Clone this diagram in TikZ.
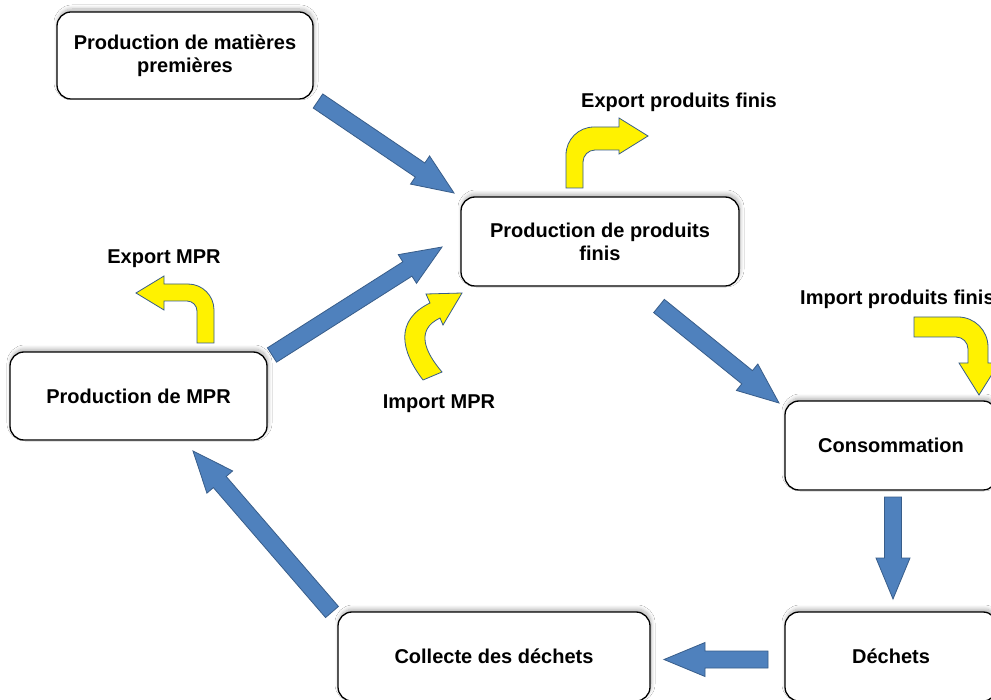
\documentclass[tikz,border=0pt]{standalone}
\usepackage{fontspec}
\setmainfont{Liberation Sans}
\usetikzlibrary{calc,shadows.blur}

\definecolor{flowblue}{RGB}{79,129,189}
\definecolor{edgeblue}{RGB}{56,93,138}

\newcommand*{\shafthw}{8.5pt}
\newcommand*{\headhw}{17pt}
\newcommand*{\headlen}{41pt}

% fat block arrow from #1 to #2
\newcommand*{\fatarrow}[2]{%
  \coordinate (neck) at ($(#2)!\headlen!(#1)$);
  \filldraw[flow]
    ($(#1)!\shafthw!90:(#2)$) -- ($(neck)!\shafthw!-90:(#1)$)
    -- ($(neck)!\headhw!-90:(#1)$) -- (#2)
    -- ($(neck)!\headhw!90:(#1)$) -- ($(neck)!\shafthw!90:(#1)$)
    -- ($(#1)!\shafthw!-90:(#2)$) -- cycle;
}

\begin{document}
\begin{tikzpicture}
[
	x=1pt,
	y=-1pt,
	stage/.style={draw=black,line width=1.3pt,rounded corners=14pt,fill=white,align=center,inner sep=0pt,
	  font=\bfseries\fontsize{20}{23}\selectfont,
	  blur shadow={shadow xshift=1pt,shadow yshift=3pt,shadow blur radius=4pt,shadow blur steps=10,shadow opacity=30}},
	flow/.style={fill=flowblue,draw=edgeblue,line width=0.8pt,line join=miter},
	bentflow/.style={fill=yellow,draw=edgeblue,line width=0.8pt,line join=miter},
	flowlabel/.style={inner sep=0pt,font=\bfseries\fontsize{20}{23}\selectfont}
]

	\useasboundingbox[fill=white] (0,0) rectangle (991,700);

	% stages
	\node[stage,minimum width=256pt,minimum height=87pt] (raw) at (185,55.5) {Production de matières\\premières};
	\node[stage,minimum width=278pt,minimum height=89pt] (goods) at (600,241.5) {Production de produits\\finis};
	\node[stage,minimum width=257pt,minimum height=88pt] (mpr) at (138.5,396) {Production de MPR};
	\node[stage,minimum width=212pt,minimum height=89pt] (use) at (891,445.5) {Consommation};
	\node[stage,minimum width=212pt,minimum height=89pt] (waste) at (891,656.5) {Déchets};
	\node[stage,minimum width=312pt,minimum height=89pt] (collect) at (494,656.5) {Collecte des déchets};

	% ends of the main flows
	\coordinate (raw out) at (318,101);
	\coordinate (goods in1) at (454,193);
	\coordinate (mpr out) at (272,355);
	\coordinate (goods in2) at (442,247);
	\coordinate (goods out) at (659,306);
	\coordinate (use in) at (779,403);
	\coordinate (use out) at (893,497);
	\coordinate (waste in) at (893,599);
	\coordinate (waste out) at (768,659.5);
	\coordinate (collect in) at (664,659.5);
	\coordinate (collect out) at (332,612);
	\coordinate (mpr in) at (193,451);

	\fatarrow{raw out}{goods in1}
	\fatarrow{mpr out}{goods in2}
	\fatarrow{goods out}{use in}
	\fatarrow{use out}{waste in}
	\fatarrow{waste out}{collect in}
	\fatarrow{collect out}{mpr in}

	% export produits finis
	\draw[bentflow] (566,188) -- (566,155) .. controls (566,139.5) and (578.5,127) .. (594,127)
	  -- (619,127) -- (619,118) -- (648,136) -- (619,154) -- (619,150) -- (595,150)
	  .. controls (588.4,150) and (583,155.4) .. (583,162) -- (583,188) -- cycle;
	\node[flowlabel] (exp goods) at (679,102) {Export produits finis};

	% export MPR
	\draw[bentflow] (214,343) -- (214,310) .. controls (214,295.6) and (202.4,284) .. (188,284)
	  -- (164,284) -- (164,276) -- (136,293) -- (164,310) -- (164,301) -- (187,301)
	  .. controls (192.5,301) and (197,305.5) .. (197,311) -- (197,343) -- cycle;
	\node[flowlabel] (exp mpr) at (164,259) {Export MPR};

	% import MPR
	\draw[bentflow] (423,380) .. controls (400,350) and (395,320) .. (430,303)
	  -- (426,294) -- (462,293) -- (443,325) -- (440,318)
	  .. controls (415,330) and (425,352) .. (442,372) -- cycle;
	\node[flowlabel] (imp mpr) at (439,404) {Import MPR};

	% import produits finis
	\draw[bentflow] (914,317) -- (958,317) .. controls (974.6,317) and (988,330.4) .. (988,347)
	  -- (988,363) -- (999,363) -- (979,395) -- (959,363) -- (968,363) -- (968,349)
	  .. controls (968,342.4) and (962.6,337) .. (956,337) -- (914,337) -- cycle;
	\node[flowlabel,anchor=west] (imp goods) at (800,299) {Import produits finis};

\end{tikzpicture}
\end{document}
